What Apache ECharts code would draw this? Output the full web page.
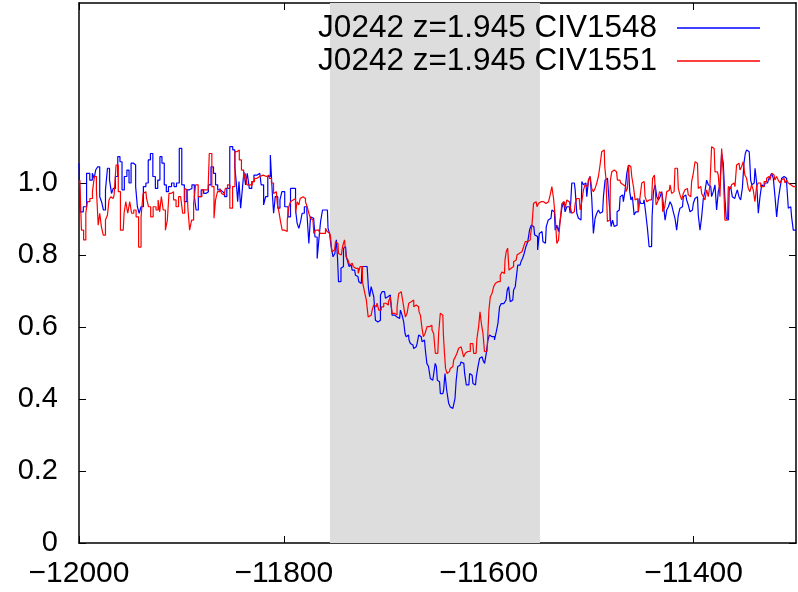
<!DOCTYPE html>
<html>
<head>
<meta charset="utf-8">
<script src="https://cdn.jsdelivr.net/npm/echarts@6/dist/echarts.min.js"></script>
<style>html,body{margin:0;padding:0;background:#fff}#c{width:798px;height:592px}</style>
</head>
<body>
<div id="c"></div>
<script>
const seriesNames = ["J0242 z=1.945 CIV1548", "J0242 z=1.945 CIV1551"];
const xTicks = [-12000, -11800, -11600, -11400];
const yTicks = [0, 0.2, 0.4, 0.6, 0.8, 1.0];
const shadeRange = [-11755, -11550];

const blueVel = [-12000,-11997.4,-11994.2,-11991,-11988,-11986,-11984.4,-11983,-11980.5,-11979,-11977,-11975.3,-11973,-11971.4,-11969,-11967.5,-11965.6,-11963.3,-11961,-11959,-11957,-11954.5,-11952,-11950.3,-11948,-11945.4,-11944,-11942,-11940.5,-11938.3,-11936,-11933.4,-11931.4,-11929.2,-11926.6,-11924.3,-11922,-11920,-11918,-11915.5,-11914,-11911.3,-11908,-11906.4,-11903.2,-11901,-11898.3,-11896,-11893.4,-11891,-11888.5,-11886.3,-11885,-11882,-11879.4,-11877.2,-11875,-11872.3,-11870,-11867.4,-11866,-11863.2,-11861,-11858.6,-11857,-11854.4,-11851.2,-11848.6,-11847.2,-11845.6,-11844.6,-11843,-11841.4,-11839.8,-11838.2,-11836.5,-11834.9,-11832.6,-11830,-11828.4,-11823.5,-11820.9,-11818.6,-11817,-11814.4,-11812,-11810.5,-11809.5,-11807.3,-11804.6,-11803,-11800.8,-11797.5,-11794.3,-11792.7,-11789.4,-11787.8,-11786.2,-11784.5,-11783,-11781.3,-11778.7,-11776.4,-11774.8,-11773.2,-11770.9,-11768.3,-11766.7,-11765,-11763.4,-11761.1,-11759.2,-11757.5,-11756.2,-11754.6,-11753,-11751,-11749.4,-11748.1,-11747.1,-11746.2,-11744.9,-11743.6,-11742.3,-11741.3,-11739.7,-11738.4,-11736.8,-11735.8,-11734.2,-11732.5,-11730.9,-11729.3,-11727.7,-11726,-11724.4,-11722.8,-11719.5,-11717.9,-11716.9,-11715.6,-11714,-11713,-11711.4,-11709.8,-11708.2,-11706.5,-11704.9,-11703.3,-11701.7,-11700,-11698.4,-11696.8,-11695.2,-11693.5,-11691.9,-11690.3,-11688.7,-11687,-11685.4,-11683.8,-11682.2,-11681.2,-11679.9,-11678.3,-11677.3,-11675.6,-11674,-11672.4,-11670.8,-11669.1,-11667.5,-11665.9,-11664.3,-11662.7,-11661,-11659.8,-11657.8,-11656.2,-11654.6,-11652.9,-11651.6,-11650.6,-11649.7,-11648,-11646.4,-11644.8,-11643.2,-11642.2,-11639.9,-11638.3,-11636.7,-11635,-11633.4,-11632.4,-11631.1,-11629.5,-11627.9,-11626.3,-11624.3,-11622.7,-11621.1,-11619.4,-11617.8,-11616.2,-11614.6,-11612.9,-11611.3,-11609.7,-11608.1,-11606.4,-11604.8,-11603.2,-11601.6,-11599.9,-11598.6,-11596.7,-11595.4,-11593.4,-11591.8,-11590.2,-11588.6,-11586.9,-11585.3,-11583.7,-11582.4,-11581.4,-11579.8,-11578.2,-11576.5,-11574.9,-11573.3,-11572.3,-11571,-11569.4,-11567.7,-11566.1,-11564.5,-11562.9,-11560.9,-11559.3,-11557.6,-11556,-11554.4,-11553.1,-11551.4,-11549.8,-11547.9,-11546.2,-11544.6,-11543,-11540.8,-11539.2,-11537.5,-11535.9,-11534.3,-11532.7,-11531,-11529.4,-11527.8,-11526.2,-11524.6,-11522.9,-11521.3,-11519.7,-11518.1,-11516.4,-11514.8,-11513.2,-11511.6,-11509.9,-11508.3,-11506.7,-11505.1,-11503.4,-11501.8,-11500.2,-11498.6,-11497,-11495.3,-11493.7,-11492.1,-11490.5,-11488.8,-11487.2,-11485.6,-11484,-11482.3,-11481.4,-11479.7,-11478.4,-11476.5,-11475.2,-11474.2,-11472.5,-11470.9,-11469.3,-11467.7,-11466,-11464.4,-11462.8,-11461.8,-11460.5,-11458.9,-11457.2,-11455.6,-11454,-11452.4,-11450.7,-11449.1,-11447.5,-11445.9,-11444.2,-11442.6,-11441,-11440,-11438.4,-11436.7,-11435.1,-11433.5,-11431.9,-11430.2,-11428.6,-11427,-11425.4,-11423.7,-11422.2,-11420.6,-11419,-11417.3,-11415.7,-11414.1,-11412.4,-11410.8,-11409.2,-11407.6,-11406,-11404.3,-11402.7,-11401.1,-11399.4,-11397.8,-11396.2,-11394.6,-11392.9,-11391.3,-11389.7,-11388.1,-11386.4,-11384.8,-11383.2,-11381.6,-11379.9,-11378.3,-11376.7,-11375.1,-11373.4,-11371.8,-11370.2,-11368.6,-11367.6,-11365.9,-11364.6,-11363,-11361.4,-11359.7,-11358.1,-11356.5,-11354.9,-11353.2,-11351.6,-11350,-11349,-11347.4,-11345.7,-11344.7,-11343.8,-11342.5,-11340.8,-11339.2,-11337.6,-11336,-11334.3,-11332.7,-11331.1,-11329.5,-11327.8,-11326.2,-11324.6,-11323,-11321.3,-11319.7,-11318.1,-11316.5,-11314.8,-11313.2,-11311.6,-11310,-11308.3,-11306.7,-11305.1,-11303.5,-11301.8,-11300];
const blueFlux = [1.055,0.920,0.934,1.027,1.008,1.027,1.013,1.036,1.045,0.962,0.948,0.925,0.981,1.041,1.008,0.971,0.985,1.018,1.073,1.059,0.981,1.018,1.036,1.000,1.055,1.050,0.990,0.934,0.916,0.934,0.990,1.000,1.064,1.082,1.018,0.985,1.008,1.073,1.055,0.995,0.976,0.990,1.000,0.990,1.000,1.096,0.995,0.948,0.981,0.985,0.995,0.962,0.925,0.962,0.981,0.971,0.976,0.995,1.045,1.027,0.995,0.981,0.976,0.971,0.962,0.985,1.101,1.092,1.045,1.000,0.948,1.004,0.930,0.981,1.031,0.995,1.027,0.985,1.004,1.022,1.027,0.995,0.939,0.962,1.018,1.078,0.971,0.916,0.962,0.930,0.953,0.976,0.934,0.906,0.985,0.985,0.925,0.888,0.874,0.892,0.916,0.934,0.920,0.832,0.906,0.902,0.850,0.790,0.842,0.892,0.925,0.930,0.925,0.874,0.860,0.823,0.795,0.804,0.842,0.791,0.726,0.726,0.763,0.768,0.819,0.823,0.795,0.781,0.768,0.772,0.758,0.758,0.744,0.740,0.726,0.721,0.768,0.768,0.768,0.707,0.684,0.712,0.698,0.684,0.619,0.614,0.619,0.689,0.698,0.698,0.680,0.684,0.689,0.680,0.633,0.633,0.628,0.624,0.624,0.647,0.633,0.614,0.582,0.573,0.578,0.564,0.554,0.550,0.540,0.545,0.554,0.578,0.573,0.559,0.564,0.536,0.499,0.490,0.457,0.452,0.452,0.499,0.490,0.452,0.448,0.415,0.415,0.425,0.471,0.425,0.388,0.378,0.374,0.369,0.402,0.452,0.490,0.494,0.503,0.499,0.471,0.439,0.439,0.471,0.466,0.443,0.439,0.462,0.490,0.513,0.517,0.508,0.499,0.527,0.564,0.578,0.573,0.573,0.564,0.587,0.610,0.656,0.665,0.665,0.670,0.675,0.703,0.712,0.670,0.675,0.703,0.712,0.744,0.772,0.772,0.781,0.791,0.805,0.823,0.837,0.870,0.883,0.879,0.856,0.851,0.814,0.860,0.865,0.837,0.833,0.879,0.897,0.902,0.925,0.920,0.869,0.883,0.865,0.897,0.930,0.948,0.920,0.934,0.934,0.916,1.000,1.000,0.981,0.916,0.902,0.897,1.004,0.995,1.000,0.962,1.008,1.018,0.957,0.860,0.902,0.916,0.925,0.916,0.920,0.962,1.008,1.013,0.976,0.925,0.879,0.897,0.879,0.883,0.920,0.925,0.962,0.967,0.948,0.981,1.027,1.050,0.976,0.953,0.962,0.911,0.920,0.920,0.957,0.943,0.943,0.953,0.916,0.874,0.823,0.823,0.906,0.976,0.995,0.962,0.953,0.962,0.976,0.939,0.897,0.925,0.934,0.948,0.939,0.920,0.902,0.869,0.911,0.930,0.934,0.962,0.967,0.953,0.939,0.920,0.925,0.943,0.957,0.962,0.911,0.869,0.906,0.957,0.976,1.008,0.995,0.990,0.962,0.976,0.995,0.925,0.976,0.995,1.082,1.055,0.957,0.902,0.897,0.981,0.990,0.962,0.957,0.967,0.981,0.962,0.953,0.985,1.055,1.082,1.092,1.087,1.064,1.008,0.995,1.000,1.041,1.000,0.916,0.962,0.995,0.990,1.000,1.000,1.008,1.018,1.027,1.013,0.962,0.906,0.953,0.985,1.013,1.018,1.013,1.000,0.930,0.934,0.906,0.869,0.869];

const redVel = [-12000,-11998.4,-11996.8,-11994.2,-11992.5,-11991,-11987.7,-11986,-11984,-11982,-11980.5,-11979,-11977.3,-11975.3,-11973,-11971.4,-11970,-11968,-11966.5,-11965,-11962.6,-11960.7,-11958.4,-11956.8,-11955.2,-11953.5,-11951.3,-11949.6,-11947.7,-11945.4,-11943.1,-11940.5,-11938.3,-11936.6,-11934.7,-11933.4,-11930.8,-11929.2,-11926,-11923.6,-11922,-11920.4,-11918.8,-11916.8,-11914.5,-11913,-11911.3,-11909,-11906.4,-11904.1,-11901.5,-11900,-11897.6,-11896,-11894.4,-11893,-11891,-11889.2,-11887,-11885.3,-11882,-11878.1,-11874,-11871.6,-11869,-11867.4,-11866,-11863.5,-11861.6,-11860,-11858.3,-11856,-11854,-11851.5,-11848.6,-11846.9,-11844.6,-11842.4,-11840.4,-11838.2,-11837.2,-11834.9,-11831.6,-11830,-11827.4,-11825.1,-11821.9,-11818.6,-11815.4,-11813.1,-11811.2,-11808.9,-11807.3,-11805.6,-11804,-11802.4,-11800.8,-11797.5,-11795.9,-11794.3,-11792.7,-11791,-11789.4,-11787.8,-11786.2,-11784.5,-11783.6,-11781.3,-11779.7,-11778.1,-11776.4,-11774.8,-11773.2,-11771.6,-11769.9,-11768.3,-11766,-11763.4,-11760.2,-11758.5,-11756.9,-11755.3,-11753.6,-11752.7,-11750.4,-11748.8,-11747.2,-11746.2,-11743.9,-11741.6,-11740,-11738.4,-11736.4,-11735.1,-11733.2,-11731.5,-11729.9,-11728.3,-11726.6,-11724.4,-11722.1,-11720.5,-11718.5,-11716.9,-11714.7,-11713,-11711.4,-11709.8,-11708.2,-11706.5,-11703.3,-11701.7,-11699.1,-11696.8,-11695.2,-11693.5,-11691.9,-11690.3,-11688.7,-11687,-11685.4,-11683.8,-11682.2,-11680.5,-11678.9,-11677.3,-11675.6,-11674,-11672.4,-11670.8,-11668.5,-11667.5,-11665.9,-11664.3,-11663.3,-11661,-11659.4,-11657.8,-11656.2,-11654.6,-11652.9,-11651.3,-11649.7,-11648.1,-11646.4,-11644.8,-11643.8,-11642.8,-11641.5,-11639.9,-11638.3,-11636.7,-11635,-11633.4,-11631.8,-11630.2,-11628.5,-11626.9,-11625.3,-11623.7,-11622,-11620.4,-11618.8,-11617.2,-11615.5,-11613.9,-11612.3,-11610.7,-11609,-11608,-11606.4,-11604.8,-11603.5,-11601.6,-11600.3,-11599.3,-11597.6,-11596,-11594.4,-11592.8,-11591.1,-11589.5,-11587.9,-11586.3,-11584.6,-11583.6,-11582.3,-11580.7,-11579.7,-11578.1,-11576.5,-11574.9,-11573.2,-11571.6,-11570,-11568.4,-11566.7,-11565.1,-11563.5,-11560.2,-11558.6,-11557,-11555.4,-11553.7,-11552.1,-11550.5,-11548.9,-11547.3,-11545.7,-11544,-11542.4,-11540.8,-11539.2,-11537.5,-11535.9,-11534.3,-11532.7,-11531,-11529.4,-11527.8,-11526.2,-11524.6,-11522.9,-11521.3,-11519.7,-11518.1,-11516.4,-11514.8,-11513.2,-11511.6,-11509.9,-11508.3,-11506.7,-11505.1,-11503.4,-11501.8,-11500.2,-11498.6,-11497,-11495.3,-11493.7,-11492.1,-11490.5,-11488.8,-11487.2,-11486.2,-11484.9,-11483.3,-11481.7,-11480.7,-11479,-11477.4,-11475.2,-11473.5,-11471.9,-11470.3,-11468.6,-11467,-11465.4,-11463.8,-11462.8,-11461.2,-11459.5,-11457.9,-11456.3,-11454.7,-11453,-11451.4,-11449.8,-11448.2,-11446.5,-11444.9,-11443.3,-11441,-11439,-11437.4,-11435.8,-11434.1,-11432.5,-11430.9,-11429.3,-11427,-11425.4,-11423.7,-11422.2,-11420.6,-11419,-11417.3,-11415.7,-11414.1,-11412.4,-11410.8,-11409.2,-11407.6,-11406,-11404.3,-11402.7,-11401.1,-11399.4,-11397.8,-11396.2,-11394.6,-11392.9,-11391.3,-11389.7,-11388.1,-11386.4,-11384.8,-11383.2,-11381.6,-11379.9,-11378.3,-11376.7,-11375.1,-11373.4,-11371.8,-11370.2,-11368.6,-11366.9,-11365.3,-11363.7,-11362.1,-11360.4,-11358.8,-11357.2,-11355.6,-11353.9,-11352.3,-11350.7,-11349.1,-11347.4,-11345.8,-11344.2,-11342.6,-11340.9,-11339.3,-11337.7,-11336.1,-11332.8,-11329.5,-11327.9,-11326.3,-11324.6,-11323,-11321.4,-11319.8,-11318.1,-11316.5,-11314.9,-11313.3,-11311.6,-11310,-11308.4,-11306.8,-11305.1,-11303.5,-11301.9,-11300];
const redFlux = [1.000,1.008,0.869,0.842,0.916,0.948,0.957,0.976,1.018,0.981,0.883,0.916,0.879,0.855,0.897,0.911,0.953,0.962,0.957,0.967,1.050,0.976,0.869,0.869,0.916,0.948,0.916,0.948,0.916,0.925,0.906,0.822,0.906,0.971,0.976,0.957,0.934,0.906,0.934,0.925,0.953,0.920,0.962,0.925,0.869,0.897,0.971,0.976,0.953,0.934,0.962,0.967,0.916,0.985,0.981,0.930,0.869,0.897,0.943,0.995,0.962,0.981,0.981,1.082,0.990,0.902,0.953,0.976,0.985,0.971,0.967,0.985,0.995,0.930,0.990,1.087,1.092,1.064,1.036,1.008,1.027,0.995,0.995,1.004,1.013,1.018,1.022,1.018,1.022,1.013,1.000,0.971,0.976,0.943,0.920,0.892,0.869,0.865,0.897,0.934,0.948,0.953,0.957,0.916,0.948,0.939,0.957,0.962,0.957,0.948,0.934,0.916,0.902,0.897,0.860,0.869,0.869,0.860,0.860,0.874,0.865,0.860,0.851,0.809,0.814,0.837,0.832,0.804,0.800,0.823,0.842,0.795,0.786,0.772,0.777,0.768,0.763,0.763,0.749,0.768,0.726,0.698,0.675,0.628,0.633,0.647,0.661,0.656,0.666,0.647,0.656,0.666,0.661,0.670,0.684,0.638,0.638,0.633,0.656,0.693,0.698,0.684,0.656,0.628,0.638,0.666,0.670,0.675,0.656,0.661,0.656,0.642,0.633,0.596,0.573,0.582,0.601,0.601,0.605,0.592,0.582,0.527,0.527,0.582,0.638,0.633,0.582,0.532,0.485,0.471,0.476,0.485,0.490,0.508,0.517,0.527,0.541,0.545,0.536,0.517,0.527,0.532,0.532,0.554,0.554,0.527,0.527,0.568,0.601,0.642,0.610,0.582,0.532,0.532,0.573,0.647,0.684,0.693,0.712,0.721,0.726,0.726,0.744,0.753,0.749,0.786,0.809,0.819,0.758,0.763,0.768,0.781,0.786,0.800,0.805,0.809,0.805,0.823,0.837,0.842,0.851,0.883,0.944,0.948,0.934,0.944,0.948,0.948,0.953,0.943,0.948,0.953,0.967,0.990,0.957,0.906,0.832,0.842,0.897,0.943,0.948,0.930,0.953,0.948,0.934,0.916,0.920,0.943,0.957,0.957,0.925,0.948,0.981,0.995,0.990,1.008,1.018,0.985,0.976,0.985,1.000,1.018,1.050,1.087,1.092,1.045,1.013,0.893,0.897,1.008,1.031,1.036,1.031,1.008,1.008,1.000,0.995,0.990,0.976,0.985,1.050,1.045,1.018,0.990,0.953,0.957,0.920,0.962,1.000,1.004,0.962,0.948,0.953,0.953,1.013,1.022,0.939,0.948,0.976,0.971,0.920,0.934,0.976,0.980,0.995,0.971,0.976,1.041,1.041,0.985,0.967,0.953,0.971,0.981,0.985,0.967,0.962,1.004,1.027,1.059,1.055,0.985,0.990,0.971,0.962,0.953,0.981,0.962,0.995,1.101,1.096,1.031,1.031,1.022,0.962,1.096,1.027,0.897,0.897,0.990,0.985,0.995,1.000,0.990,1.050,1.055,1.036,1.045,1.059,1.022,1.013,0.985,0.976,0.995,0.981,0.948,0.990,1.000,0.990,1.004,1.013,1.018,1.008,1.027,1.022,1.008,1.018,1.008,1.000,1.008,1.013,1.000,1.008,1.000,0.995,0.990,0.990,0.990];

const zip = (xs, ys) => xs.map((x, i) => [x, ys[i]]);
const FONT = '"Liberation Sans", Arial, sans-serif';
const minus = v => String(v).replace('-', '\u2212');

const chart = echarts.init(document.getElementById('c'), null, {renderer: 'canvas'});
const axisLine = {show: true, onZero: false, lineStyle: {color: '#000', width: 1.5}};
chart.setOption({
  animation: false,
  backgroundColor: '#fff',
  grid: {left: 79, right: 2, top: 3, bottom: 49, containLabel: false},
  legend: {
    orient: 'vertical', right: 33, top: 7, align: 'right', padding: 5,
    icon: 'rect', itemWidth: 83, itemHeight: 1.5, itemGap: 1,
    data: seriesNames,
    selectedMode: false,
    textStyle: {fontFamily: FONT, fontSize: 31.5, lineHeight: 30, color: '#000', padding: [0, 15, 0, 0]}
  },
  xAxis: [{
    type: 'value', min: -12000, max: -11300, interval: 200, position: 'bottom',
    axisLine: axisLine,
    axisTick: {show: true, inside: true, length: 7, lineStyle: {color: '#000', width: 1}, customValues: xTicks},
    axisLabel: {fontFamily: FONT, fontSize: 30, color: '#000', margin: 16, formatter: minus, customValues: xTicks},
    splitLine: {show: false}
  }, {
    type: 'value', min: -12000, max: -11300, interval: 200, position: 'top',
    axisLine: axisLine,
    axisTick: {show: true, inside: true, length: 7, lineStyle: {color: '#000', width: 1}, customValues: xTicks},
    axisLabel: {show: false},
    splitLine: {show: false}
  }],
  yAxis: [{
    type: 'value', min: 0, max: 1.5, interval: 0.1, position: 'left',
    axisLine: axisLine,
    axisTick: {show: true, inside: true, length: 7, lineStyle: {color: '#000', width: 1}, customValues: yTicks},
    axisLabel: {fontFamily: FONT, fontSize: 29, color: '#000', margin: 21,
      formatter: v => v === 0 ? '0' : v.toFixed(1), customValues: yTicks},
    splitLine: {show: false}
  }, {
    type: 'value', min: 0, max: 1.5, interval: 0.1, position: 'right',
    axisLine: axisLine,
    axisTick: {show: true, inside: true, length: 7, lineStyle: {color: '#000', width: 1}, customValues: yTicks},
    axisLabel: {show: false},
    splitLine: {show: false}
  }],
  series: [{
    name: seriesNames[0], type: 'line', step: 'middle', symbol: 'none',
    data: zip(blueVel, blueFlux), clip: true,
    lineStyle: {color: '#0000ff', width: 1.2}, itemStyle: {color: '#0000ff'},
    markArea: {silent: true, itemStyle: {color: '#dddddd', opacity: 1},
      data: [[{xAxis: shadeRange[0]}, {xAxis: shadeRange[1]}]]}
  }, {
    name: seriesNames[1], type: 'line', step: 'middle', symbol: 'none',
    data: zip(redVel, redFlux), clip: true,
    lineStyle: {color: '#ff0000', width: 1.2}, itemStyle: {color: '#ff0000'}
  }]
});
</script>
</body>
</html>
